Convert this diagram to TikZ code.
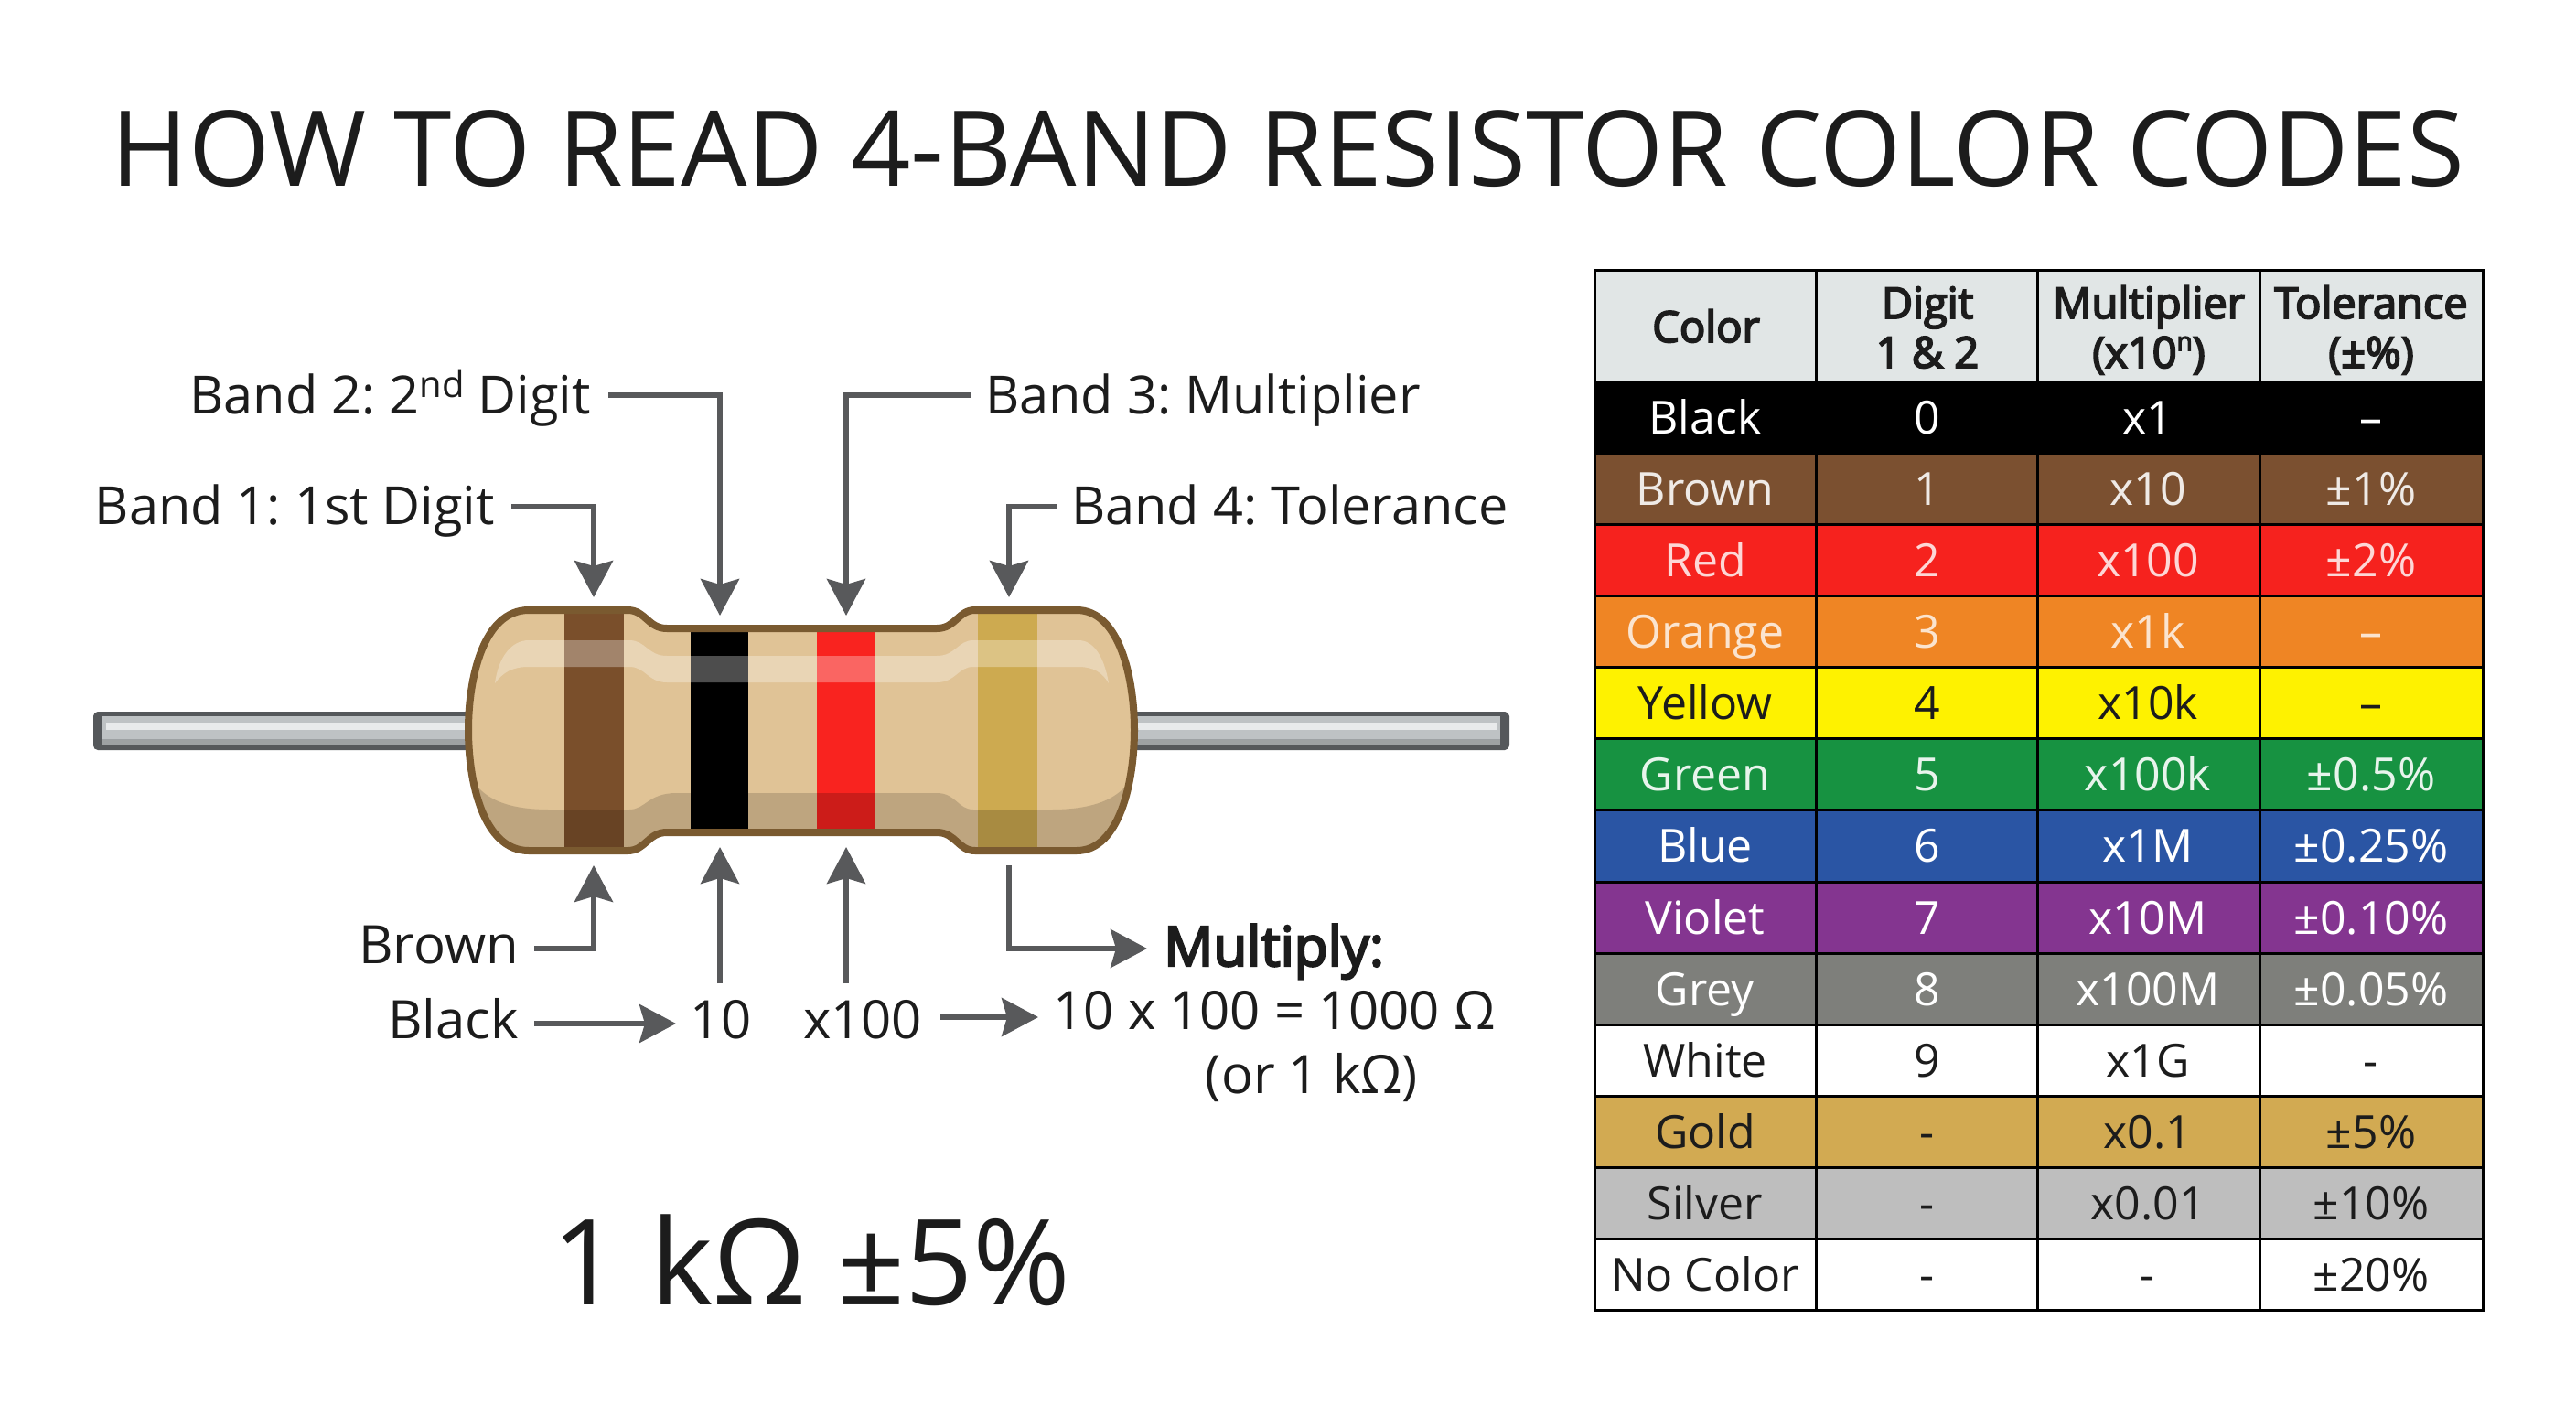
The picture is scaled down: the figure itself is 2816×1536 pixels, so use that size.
\documentclass[tikz,border=0pt]{standalone}
\usepackage{fontspec}
\setmainfont{Open Sans}
\newfontfamily\semibf[FakeBold=4]{Open Sans}
\frenchspacing
\usetikzlibrary{arrows.meta}
\definecolor{arrowgrey}{HTML}{58595B}
\definecolor{bodytan}{HTML}{E0C396}
\definecolor{bodyedge}{HTML}{7A5A30}
\definecolor{bandbrown}{HTML}{7A4F2B}
\definecolor{bandgold}{HTML}{CDAA50}
\definecolor{bandred}{HTML}{F9231F}
\definecolor{leadgrey}{HTML}{BEC2C4}
\definecolor{leadlow}{HTML}{9DA1A3}
\definecolor{leadhi}{HTML}{E8EAEB}
\definecolor{leaddark}{HTML}{55585B}
\definecolor{thead}{HTML}{E1E6E6}
\definecolor{tbrown}{HTML}{7B5030}
\definecolor{tred}{HTML}{F6221E}
\definecolor{torange}{HTML}{EF8524}
\definecolor{tyellow}{HTML}{FEF200}
\definecolor{tgreen}{HTML}{179241}
\definecolor{tblue}{HTML}{2A55A4}
\definecolor{tviolet}{HTML}{843590}
\definecolor{tgrey}{HTML}{7E7F7B}
\definecolor{tgold}{HTML}{D2AA52}
\definecolor{tsilver}{HTML}{BEBEBE}
\definecolor{ink}{HTML}{1C1C1C}
\tikzset{
  conn/.style={draw=arrowgrey,line width=5.5pt,-{Stealth[length=40pt,width=42pt,inset=6pt]}},
  lab/.style={inner sep=0pt,text=ink,font=\fontsize{58}{58}\selectfont,anchor=base},
  bandlab/.style={lab,font=\fontsize{57.6}{58}\selectfont},
  cellbox/.style={draw=black,line width=3pt,minimum width=242pt,minimum height=78.15pt,inner sep=0pt,outer sep=0pt,anchor=north west},
  celltxt/.style={inner sep=0pt,anchor=base,font=\fontsize{50}{50}\selectfont},
  headtxt/.style={inner sep=0pt,anchor=base,align=center,text=ink,font=\fontsize{47}{47}\semibf},
}
\newcommand{\rbody}{(512,798) .. controls (512,742) and (528,667) .. (578,667) -- (686,667)
   .. controls (706,667) and (708,687) .. (729,687) -- (1024,687)
   .. controls (1045,687) and (1047,667) .. (1066,667) -- (1177,667)
   .. controls (1224,667) and (1240,742) .. (1240,798)
   .. controls (1240,854) and (1224,930) .. (1177,930) -- (1066,930)
   .. controls (1047,930) and (1045,910) .. (1024,910) -- (729,910)
   .. controls (708,910) and (706,930) .. (686,930) -- (578,930)
   .. controls (528,930) and (512,854) .. (512,798) -- cycle}
\begin{document}
\begin{tikzpicture}[x=1pt,y=-1pt]
\useasboundingbox (0,0) rectangle (2816,1536);
\fill[white] (0,0) rectangle (2816,1536);
\node[lab,font=\fontsize{114.5}{114.5}\selectfont] (title) at (1408,203) {HOW TO READ 4-BAND RESISTOR COLOR CODES};
% leads
\fill[leaddark,rounded corners=5pt] (102,778) rectangle (520,820);
\fill[leaddark,rounded corners=5pt] (1230,778) rectangle (1650,820);
\fill[leadgrey] (112,783) rectangle (520,815);
\fill[leadgrey] (1230,783) rectangle (1640,815);
\fill[leadlow] (112,808) rectangle (520,815);
\fill[leadlow] (1230,808) rectangle (1640,815);
\fill[leadhi] (116,790) rectangle (510,798);
\fill[leadhi] (1240,790) rectangle (1636,798);
% body
\fill[bodytan] \rbody;
\begin{scope}
\clip \rbody;
% shadow
\fill[black!50!bodytan,opacity=.3] (508,834) .. controls (518,868) and (545,885) .. (600,885) -- (688,885)
   .. controls (706,885) and (708,867) .. (740,867) -- (1024,867)
   .. controls (1045,867) and (1047,885) .. (1064,885) -- (1150,885)
   .. controls (1205,885) and (1235,868) .. (1244,834) -- (1244,940) -- (508,940) -- cycle;
% bands
\fill[bandbrown] (617,660) rectangle (682,940);
\fill[black] (755,691) rectangle (818,907);
\fill[bandred] (893,691) rectangle (957,907);
\fill[bandgold] (1069,671) rectangle (1134,927);
\fill[black,opacity=.14] (617,885) rectangle (682,940);
\fill[black,opacity=.18] (893,867) rectangle (957,907);
\fill[black,opacity=.18] (1069,885) rectangle (1134,940);
% highlight
\fill[white,opacity=.3] (541,747) .. controls (545,717) and (560,700) .. (578,700) -- (688,700)
   .. controls (706,700) and (708,717) .. (729,717) -- (1024,717)
   .. controls (1045,717) and (1047,700) .. (1064,700) -- (1179,700)
   .. controls (1195,700) and (1207,717) .. (1212,747)
   .. controls (1205,735) and (1195,729) .. (1179,729) -- (1064,729)
   .. controls (1047,729) and (1045,746) .. (1024,746) -- (729,746)
   .. controls (708,746) and (706,729) .. (688,729) -- (578,729)
   .. controls (560,729) and (550,735) .. (541,747) -- cycle;
\end{scope}
\draw[bodyedge,line width=8pt,line join=round] \rbody;
% labels top
\node[bandlab,anchor=base east] (b1) at (541,573) {Band 1: 1st Digit};
\node[bandlab,anchor=base east] (b2) at (646,452) {Band 2: 2\raisebox{.3em}{\fontsize{40}{40}\selectfont nd} Digit};
\node[bandlab,anchor=base west] (b3) at (1077,452) {Band 3: Multiplier};
\node[bandlab,anchor=base west] (b4) at (1171,573) {Band 4: Tolerance};
\coordinate (t1) at (649,653);
\coordinate (t2) at (787,673);
\coordinate (t3) at (925,673);
\coordinate (t4) at (1103,653);
\coordinate (s1) at (559,554);
\coordinate (s2) at (665,432);
\coordinate (s3) at (1061,432);
\coordinate (s4) at (1155,554);
\draw[conn] (s1) -| (t1);
\draw[conn] (s2) -| (t2);
\draw[conn] (s3) -| (t3);
\draw[conn] (s4) -| (t4);
% labels bottom
\node[lab,anchor=base east] (brown) at (567,1053) {Brown};
\node[lab,anchor=base east] (black) at (567,1135) {Black};
\node[lab] (ten) at (788,1135) {10};
\node[lab] (hund) at (943,1135) {x100};
\node[lab,anchor=base west,font=\fontsize{60}{60}\semibf] (mult) at (1272,1056) {Multiply:};
\node[lab] (eq) at (1393,1125) {10 x 100 = 1000 Ω};
\node[lab] (or) at (1434,1195) {(or 1 kΩ)};
\coordinate (u1s) at (584,1037);
\coordinate (u1) at (649,946);
\coordinate (u2s) at (787,1075);
\coordinate (u2) at (787,926);
\coordinate (u3s) at (925,1075);
\coordinate (u3) at (925,926);
\coordinate (u4s) at (1103,946);
\coordinate (u4) at (1254,1037);
\coordinate (a1s) at (584,1119);
\coordinate (a1) at (739,1119);
\coordinate (a2s) at (1028,1112);
\coordinate (a2) at (1135,1112);
\draw[conn] (u1s) -| (u1);
\draw[conn] (u2s) -- (u2);
\draw[conn] (u3s) -- (u3);
\draw[conn] (u4s) |- (u4);
\draw[conn] (a1s) -- (a1);
\draw[conn] (a2s) -- (a2);
\node[lab,font=\fontsize{130}{130}\selectfont] (big) at (887,1426) {1 kΩ ±5\%};
% table
\def\rowh{78.15}
\def\cola{1743}\def\colb{1985}\def\colc{2227}\def\cold{2470}
\newcounter{rownum}
\newcommand{\trow}[6]{%
  \pgfmathsetmacro{\ytop}{417+\rowh*\value{rownum}}
  \pgfmathsetmacro{\ymid}{\ytop+\rowh/2+18}
  \node[cellbox,fill=#1,minimum width=242pt] at (\cola,\ytop) {};
  \node[cellbox,fill=#1,minimum width=242pt] at (\colb,\ytop) {};
  \node[cellbox,fill=#1,minimum width=243pt] at (\colc,\ytop) {};
  \node[cellbox,fill=#1,minimum width=244pt] at (\cold,\ytop) {};
  \node[celltxt,text=#2] at (1864,\ymid) {#3};
  \node[celltxt,text=#2] at (2107,\ymid) {#4};
  \node[celltxt,text=#2] at (2348,\ymid) {#5};
  \node[celltxt,text=#2] at (2592,\ymid) {#6};
  \stepcounter{rownum}}
\node[cellbox,fill=thead,minimum height=122pt,minimum width=242pt] (h1) at (\cola,295) {};
\node[cellbox,fill=thead,minimum height=122pt,minimum width=242pt] (h2) at (\colb,295) {};
\node[cellbox,fill=thead,minimum height=122pt,minimum width=243pt] (h3) at (\colc,295) {};
\node[cellbox,fill=thead,minimum height=122pt,minimum width=244pt] (h4) at (\cold,295) {};
\node[headtxt] at (1865,374) {Color};
\node[headtxt] at (2107,348) {Digit};
\node[headtxt] at (2107,402) {1 \& 2};
\node[headtxt] at (2349,348) {Multiplier};
\node[headtxt] at (2349,402) {(x10\raisebox{.4em}{\fontsize{28}{28}\selectfont n})};
\node[headtxt] at (2592,348) {Tolerance};
\node[headtxt] at (2592,402) {(±\%)};
\trow{black}{white}{Black}{0}{x1}{–}
\trow{tbrown}{white!88!tbrown}{Brown}{1}{x10}{±1\%}
\trow{tred}{white!82!tred}{Red}{2}{x100}{±2\%}
\trow{torange}{white!78!torange}{Orange}{3}{x1k}{–}
\trow{tyellow}{ink}{Yellow}{4}{x10k}{–}
\trow{tgreen}{white!90!tgreen}{Green}{5}{x100k}{±0.5\%}
\trow{tblue}{white}{Blue}{6}{x1M}{±0.25\%}
\trow{tviolet}{white}{Violet}{7}{x10M}{±0.10\%}
\trow{tgrey}{white}{Grey}{8}{x100M}{±0.05\%}
\trow{white}{ink}{White}{9}{x1G}{-}
\trow{tgold}{ink}{Gold}{-}{x0.1}{±5\%}
\trow{tsilver}{ink}{Silver}{-}{x0.01}{±10\%}
\trow{white}{ink}{No Color}{-}{-}{±20\%}
\end{tikzpicture}
\end{document}
